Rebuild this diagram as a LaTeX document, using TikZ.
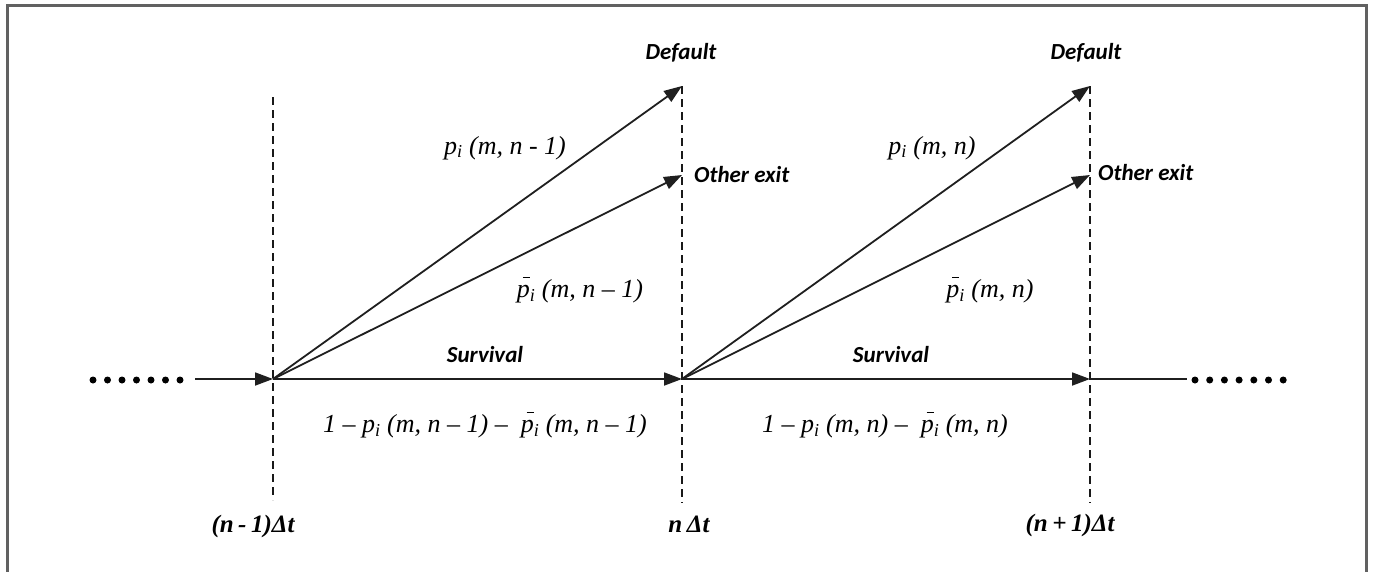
\documentclass[tikz,border=0pt]{standalone}
\usepackage{fontspec}
\setmainfont{Liberation Serif}
\newfontfamily\labfont{Carlito}
\usetikzlibrary{arrows.meta}
\newcommand\pbr{\leavevmode\setbox0\hbox{p}\rlap{\hbox to \wd0{\hss\raisebox{1.6ex}{\rule{0.55\wd0}{0.05em}}}}p}
\newcommand\subi{\textsubscript{i}}
\newcommand\tsp{\hspace{0.18em}}
\tikzset{
  frame/.style={draw=black!62, line width=3pt},
  vdash/.style={draw=black!90, line width=2pt, dash pattern=on 8pt off 5pt},
  arr/.style={draw=black!88, line width=1.8pt, -{Triangle[length=18pt,width=13pt]}},
  plain/.style={draw=black!88, line width=1.8pt},
  word/.style={font=\labfont\bfseries\itshape\fontsize{23}{27}\selectfont, inner sep=0pt},
  formula/.style={font=\itshape\fontsize{26}{30}\selectfont, inner sep=0pt},
  tick/.style={font=\bfseries\itshape\fontsize{25}{29}\selectfont, inner sep=0pt, anchor=base},
  dot/.style={circle, fill=black, inner sep=0pt, minimum size=7pt}
}
\begin{document}
\begin{tikzpicture}[x=1pt,y=-1pt]
\useasboundingbox (0,0) rectangle (1375,571);
\draw[frame] (7,575) -- (7,5) -- (1366,5) -- (1366,575);
% points
\coordinate (A) at (273,379);
\coordinate (B) at (682,379);
\coordinate (C) at (1090,379);
\coordinate (D1) at (682,86);
\coordinate (O1) at (682,175);
\coordinate (D2) at (1090,86);
\coordinate (O2) at (1090,175);
\coordinate (L0) at (195,379);
\coordinate (R0) at (1187,379);
\coordinate (Vat) at (273,97);  \coordinate (Vab) at (273,500);
\coordinate (Vbt) at (682,86);  \coordinate (Vbb) at (682,503);
\coordinate (Vct) at (1090,86); \coordinate (Vcb) at (1090,503);
% dashed time lines
\draw[vdash] (Vat) -- (Vab);
\draw[vdash] (Vbt) -- (Vbb);
\draw[vdash] (Vct) -- (Vcb);
% arrows
\draw[arr] (L0) -- (A);
\draw[arr] (A) -- (B);
\draw[arr] (B) -- (C);
\draw[plain] (C) -- (R0);
\draw[arr] (A) -- (D1);
\draw[arr] (A) -- (O1);
\draw[arr] (B) -- (D2);
\draw[arr] (B) -- (O2);
% dots
\foreach \i in {0,...,6} {
  \node[dot] (ld\i) at ({93+14.5*\i},380) {};
  \node[dot] (rd\i) at ({1195+14.7*\i},380) {};
}
% words
\node[word] (def1) at (681,53) {Default};
\node[word] (def2) at (1086,53) {Default};
\node[word, anchor=west] (oth1) at (694,175) {Other exit};
\node[word, anchor=west] (oth2) at (1098,173) {Other exit};
\node[word] (sur1) at (485,355) {Survival};
\node[word] (sur2) at (891,355) {Survival};
% formulas
\node[formula] (f1) at (505,148) {p\subi\ (m, n - 1)};
\node[formula] (f2) at (580,290) {\pbr\subi\ (m, n – 1)};
\node[formula] (f3) at (485,425) {1 – p\subi\ (m, n – 1) – \ \pbr\subi\ (m, n – 1)};
\node[formula] (f4) at (932,148) {p\subi\ (m, n)};
\node[formula] (f5) at (990,290) {\pbr\subi\ (m, n)};
\node[formula] (f6) at (885,425) {1 – p\subi\ (m, n) – \ \pbr\subi\ (m, n)};
% time labels
\node[tick] (t1) at (253,532) {(n\tsp-\tsp1)Δt};
\node[tick] (t2) at (689,532) {n\tsp Δt};
\node[tick] (t3) at (1070,531) {(n\tsp+\tsp1)Δt};
\end{tikzpicture}
\end{document}
